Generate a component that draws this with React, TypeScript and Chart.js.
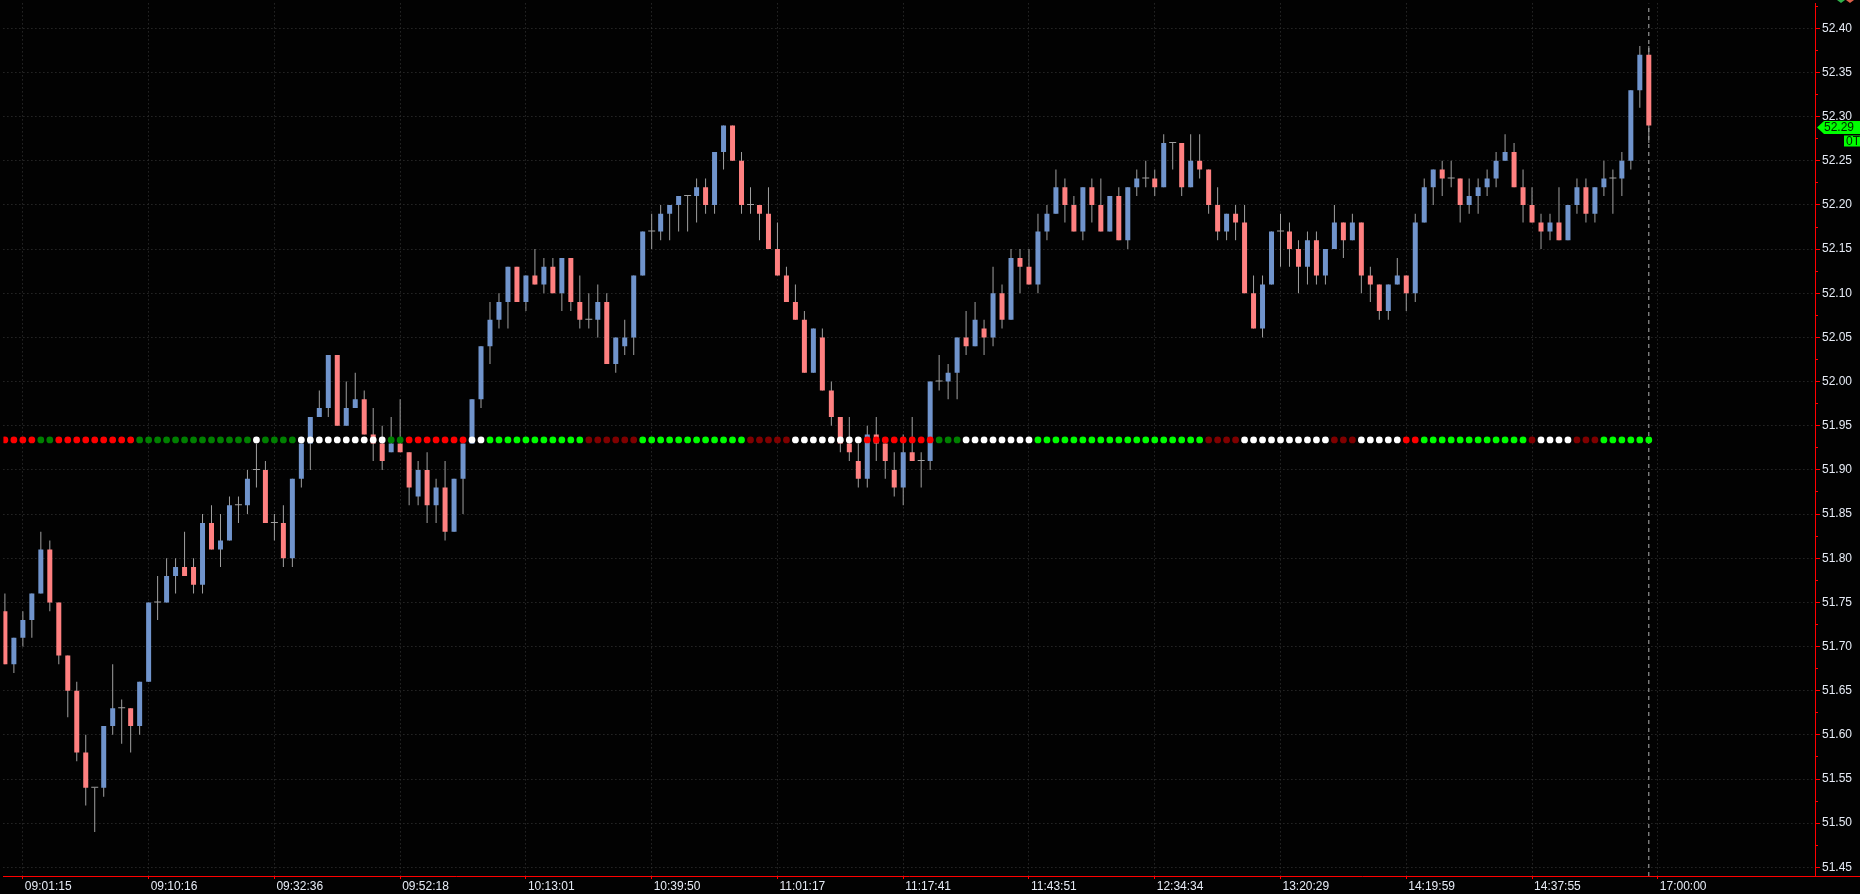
import React, { useEffect, useRef } from 'react';
import { Chart, registerables } from 'chart.js';

Chart.register(...registerables);

// ---- session bars (one per slot) ----
const opens = [
  51.74, 51.68, 51.71, 51.73, 51.76, 51.81, 51.75, 51.69, 51.65, 51.58,
  51.54, 51.54, 51.61, 51.63, 51.63, 51.61, 51.66, 51.75, 51.75, 51.78,
  51.79, 51.79, 51.77, 51.84, 51.81, 51.82, 51.86, 51.86, 51.90, 51.90,
  51.84, 51.84, 51.80, 51.89, 51.93, 51.96, 51.97, 52.03, 51.95, 51.97,
  51.98, 51.94, 51.93, 51.92, 51.93, 51.92, 51.87, 51.90, 51.86, 51.88,
  51.83, 51.89, 51.93, 51.98, 52.04, 52.07, 52.09, 52.13, 52.09, 52.12,
  52.11, 52.13, 52.10, 52.14, 52.09, 52.07, 52.07, 52.09, 52.02, 52.04,
  52.05, 52.12, 52.17, 52.17, 52.19, 52.20, 52.21, 52.21, 52.22, 52.20,
  52.26, 52.29, 52.25, 52.20, 52.20, 52.19, 52.15, 52.12, 52.09, 52.07,
  52.01, 52.05, 51.99, 51.96, 51.93, 51.91, 51.89, 51.94, 51.93, 51.90,
  51.88, 51.92, 51.91, 51.91, 52.00, 52.00, 52.01, 52.05, 52.04, 52.06,
  52.05, 52.10, 52.07, 52.14, 52.13, 52.11, 52.17, 52.19, 52.22, 52.20,
  52.17, 52.22, 52.20, 52.17, 52.21, 52.16, 52.22, 52.23, 52.23, 52.22,
  52.27, 52.27, 52.22, 52.25, 52.24, 52.20, 52.17, 52.19, 52.18, 52.10,
  52.06, 52.11, 52.17, 52.17, 52.15, 52.13, 52.16, 52.12, 52.15, 52.18,
  52.16, 52.18, 52.12, 52.11, 52.08, 52.11, 52.12, 52.10, 52.18, 52.22,
  52.24, 52.23, 52.23, 52.20, 52.21, 52.22, 52.23, 52.25, 52.26, 52.22,
  52.20, 52.18, 52.17, 52.18, 52.16, 52.20, 52.22, 52.19, 52.22, 52.23,
  52.23, 52.25, 52.33, 52.37,
];
const highs = [
  51.76, 51.71, 51.74, 51.76, 51.83, 51.82, 51.75, 51.69, 51.66, 51.60,
  51.54, 51.61, 51.68, 51.64, 51.63, 51.66, 51.75, 51.78, 51.80, 51.80,
  51.83, 51.80, 51.85, 51.86, 51.85, 51.87, 51.87, 51.90, 51.93, 51.91,
  51.85, 51.86, 51.89, 51.93, 51.96, 51.99, 52.03, 52.03, 52.00, 52.01,
  51.99, 51.97, 51.95, 51.96, 51.98, 51.92, 51.91, 51.92, 51.89, 51.91,
  51.89, 51.93, 51.98, 52.04, 52.09, 52.10, 52.13, 52.13, 52.12, 52.15,
  52.14, 52.14, 52.14, 52.14, 52.12, 52.10, 52.11, 52.10, 52.05, 52.07,
  52.12, 52.17, 52.19, 52.20, 52.20, 52.21, 52.21, 52.23, 52.23, 52.26,
  52.29, 52.29, 52.26, 52.22, 52.20, 52.22, 52.18, 52.13, 52.11, 52.08,
  52.06, 52.06, 52.00, 51.96, 51.96, 51.93, 51.95, 51.96, 51.93, 51.92,
  51.94, 51.96, 51.92, 52.00, 52.03, 52.02, 52.05, 52.08, 52.09, 52.07,
  52.13, 52.11, 52.15, 52.15, 52.15, 52.19, 52.20, 52.24, 52.23, 52.21,
  52.22, 52.23, 52.23, 52.21, 52.22, 52.22, 52.24, 52.25, 52.24, 52.28,
  52.27, 52.27, 52.28, 52.28, 52.24, 52.22, 52.19, 52.20, 52.20, 52.12,
  52.12, 52.17, 52.19, 52.18, 52.16, 52.17, 52.17, 52.15, 52.20, 52.18,
  52.19, 52.18, 52.13, 52.11, 52.11, 52.14, 52.12, 52.19, 52.23, 52.24,
  52.25, 52.25, 52.23, 52.23, 52.23, 52.24, 52.26, 52.28, 52.27, 52.24,
  52.22, 52.19, 52.19, 52.22, 52.20, 52.23, 52.23, 52.22, 52.25, 52.24,
  52.26, 52.33, 52.38, 52.38,
];
const lows = [
  51.68, 51.67, 51.70, 51.71, 51.76, 51.74, 51.68, 51.62, 51.57, 51.52,
  51.49, 51.53, 51.60, 51.59, 51.58, 51.60, 51.66, 51.73, 51.75, 51.76,
  51.78, 51.76, 51.76, 51.81, 51.79, 51.82, 51.84, 51.85, 51.88, 51.84,
  51.82, 51.79, 51.79, 51.88, 51.90, 51.96, 51.96, 51.95, 51.95, 51.97,
  51.94, 51.91, 51.90, 51.92, 51.92, 51.86, 51.86, 51.84, 51.84, 51.82,
  51.83, 51.85, 51.93, 51.97, 52.02, 52.06, 52.06, 52.09, 52.08, 52.11,
  52.10, 52.10, 52.08, 52.08, 52.06, 52.06, 52.05, 52.02, 52.01, 52.03,
  52.03, 52.12, 52.15, 52.16, 52.16, 52.17, 52.17, 52.18, 52.19, 52.19,
  52.24, 52.25, 52.19, 52.19, 52.16, 52.15, 52.12, 52.09, 52.07, 52.01,
  52.01, 51.99, 51.95, 51.92, 51.91, 51.88, 51.88, 51.91, 51.89, 51.87,
  51.86, 51.91, 51.88, 51.90, 51.99, 51.98, 51.98, 52.03, 52.04, 52.03,
  52.04, 52.06, 52.07, 52.10, 52.11, 52.10, 52.16, 52.19, 52.18, 52.17,
  52.16, 52.18, 52.17, 52.17, 52.16, 52.15, 52.21, 52.22, 52.21, 52.22,
  52.24, 52.21, 52.22, 52.23, 52.19, 52.16, 52.16, 52.16, 52.10, 52.06,
  52.05, 52.11, 52.13, 52.13, 52.10, 52.11, 52.11, 52.11, 52.15, 52.14,
  52.16, 52.10, 52.09, 52.07, 52.07, 52.11, 52.08, 52.09, 52.18, 52.20,
  52.21, 52.22, 52.18, 52.19, 52.19, 52.21, 52.22, 52.25, 52.22, 52.18,
  52.18, 52.15, 52.16, 52.16, 52.16, 52.19, 52.18, 52.18, 52.21, 52.19,
  52.21, 52.24, 52.31, 52.27,
];
const closes = [
  51.68, 51.71, 51.73, 51.76, 51.81, 51.75, 51.69, 51.65, 51.58, 51.54,
  51.54, 51.61, 51.63, 51.63, 51.61, 51.66, 51.75, 51.75, 51.78, 51.79,
  51.78, 51.77, 51.84, 51.81, 51.82, 51.86, 51.86, 51.89, 51.90, 51.84,
  51.84, 51.80, 51.89, 51.93, 51.96, 51.97, 52.03, 51.95, 51.97, 51.98,
  51.94, 51.93, 51.91, 51.93, 51.92, 51.88, 51.90, 51.86, 51.88, 51.83,
  51.89, 51.93, 51.98, 52.04, 52.07, 52.09, 52.13, 52.09, 52.12, 52.11,
  52.13, 52.10, 52.14, 52.09, 52.07, 52.07, 52.09, 52.02, 52.05, 52.05,
  52.12, 52.17, 52.17, 52.19, 52.20, 52.21, 52.21, 52.22, 52.20, 52.26,
  52.29, 52.25, 52.20, 52.20, 52.19, 52.15, 52.12, 52.09, 52.07, 52.01,
  52.06, 51.99, 51.96, 51.93, 51.92, 51.89, 51.94, 51.93, 51.91, 51.88,
  51.92, 51.91, 51.91, 52.00, 52.00, 52.01, 52.05, 52.04, 52.07, 52.05,
  52.10, 52.07, 52.14, 52.13, 52.11, 52.17, 52.19, 52.22, 52.20, 52.17,
  52.22, 52.20, 52.17, 52.21, 52.16, 52.22, 52.23, 52.23, 52.22, 52.27,
  52.27, 52.22, 52.25, 52.24, 52.20, 52.17, 52.19, 52.18, 52.10, 52.06,
  52.11, 52.17, 52.17, 52.15, 52.13, 52.16, 52.12, 52.15, 52.18, 52.16,
  52.18, 52.12, 52.11, 52.08, 52.11, 52.12, 52.10, 52.18, 52.22, 52.24,
  52.23, 52.23, 52.20, 52.21, 52.22, 52.23, 52.25, 52.26, 52.22, 52.20,
  52.18, 52.17, 52.18, 52.16, 52.20, 52.22, 52.19, 52.22, 52.23, 52.23,
  52.25, 52.33, 52.37, 52.29,
];

// Signal state per bar: R red, M maroon, G lime, D dark green, W white
const signalStates = (
  'RRRR' + 'DD' + 'RRRRRRRRR' + 'DDDDDDDDDDDDD' + 'W' + 'DDDD' + 'WWWWWWWWWW' +
  'DD' + 'RRRRRRR' + 'WW' + 'GGGGGGGGGGG' + 'MMMMMM' + 'GGGGGGGGGGGG' + 'MMMMM' +
  'WWWWWWWW' + 'RRRRRRRR' + 'DDD' + 'WWWWWWWW' + 'GGGGGGGGGGGGGGGGGGG' + 'MMMM' +
  'WWWWWWWWWW' + 'MMM' + 'WWWWW' + 'RR' + 'GGGGGGGGGGGG' + 'M' + 'WWWW' + 'MMM' + 'GGGGGG'
).split('');
const signalLevel = 51.934;

// Time axis
const timeLabels = [
  '09:01:15', '09:10:16', '09:32:36', '09:52:18', '10:13:01', '10:39:50', '11:01:17',
  '11:17:41', '11:43:51', '12:34:34', '13:20:29', '14:19:59', '14:37:55', '17:00:00',
];
const timeLabelBars = [2, 16, 30, 44, 58, 72, 86, 100, 114, 128, 142, 156, 170, 184];

// Price axis
const priceLabels = [
  51.45, 51.5, 51.55, 51.6, 51.65, 51.7, 51.75, 51.8, 51.85, 51.9,
  51.95, 52.0, 52.05, 52.1, 52.15, 52.2, 52.25, 52.3, 52.35, 52.4,
];

const Y_MIN = 51.4402;
const Y_MAX = 52.4282;
const X_MIN = -1 / 6;
const X_MAX = 201.5;

const BG = '#020202';
const AXIS_RED = '#ff0000';
const GRID = '#3a3a3a';
const TEXT = '#e6ebf5';
const UP = '#7094cc';
const DOWN = '#ff8080';
const WICK = '#a0a0a0';
const FONT = { family: '"Liberation Sans", Arial, sans-serif', size: 12 };
const STATE_COLORS: Record<string, string> = {
  R: '#ff0000',
  M: '#800000',
  G: '#00ff00',
  D: '#008000',
  W: '#ffffff',
};

const isMajorPrice = (v: number) => Math.abs(v * 20 - Math.round(v * 20)) < 1e-6;

const backgroundPlugin = {
  id: 'bgFill',
  beforeDraw(chart: any) {
    const { ctx, width, height } = chart;
    ctx.save();
    ctx.fillStyle = BG;
    ctx.fillRect(0, 0, width, height);
    ctx.restore();
  },
};

const lastPricePlugin = {
  id: 'lastPriceTag',
  afterDraw(chart: any) {
    const { ctx, chartArea, width, scales } = chart;
    const y = scales.y;
    // extend the time-axis rule under the price scale
    ctx.save();
    ctx.strokeStyle = AXIS_RED;
    ctx.lineWidth = 1;
    ctx.beginPath();
    ctx.moveTo(chartArea.right, Math.round(chartArea.bottom) + 0.5);
    ctx.lineTo(width, Math.round(chartArea.bottom) + 0.5);
    ctx.stroke();

    // small up / down markers in the top corner of the price scale
    ctx.fillStyle = '#2fb34a';
    ctx.beginPath();
    ctx.moveTo(1837, 0);
    ctx.lineTo(1845, 0);
    ctx.lineTo(1841, 3);
    ctx.closePath();
    ctx.fill();
    ctx.fillStyle = '#e0604a';
    ctx.beginPath();
    ctx.moveTo(1846, 0);
    ctx.lineTo(1854, 0);
    ctx.lineTo(1850, 3);
    ctx.closePath();
    ctx.fill();

    const last = closes[closes.length - 1];
    const cy = Math.round(y.getPixelForValue(last)) + 2.5;
    const tip = chartArea.right + 2;
    ctx.fillStyle = '#00ff00';
    ctx.beginPath();
    ctx.moveTo(tip, cy);
    ctx.lineTo(tip + 7, cy - 6.5);
    ctx.lineTo(width, cy - 6.5);
    ctx.lineTo(width, cy + 6.5);
    ctx.lineTo(tip + 7, cy + 6.5);
    ctx.closePath();
    ctx.fill();
    ctx.fillStyle = '#002200';
    ctx.font = `12px ${FONT.family}`;
    ctx.textBaseline = 'middle';
    ctx.textAlign = 'left';
    ctx.fillText(last.toFixed(2), tip + 7, cy + 0.5);

    ctx.fillStyle = '#00ff00';
    ctx.fillRect(width - 16, cy + 8, 16, 11);
    ctx.fillStyle = '#002200';
    ctx.fillText('0T', width - 14, cy + 14);
    ctx.restore();
  },
};

export default function App() {
  const canvasRef = useRef<HTMLCanvasElement>(null);

  useEffect(() => {
    document.body.style.margin = '0';
    document.body.style.background = BG;
    const canvas = canvasRef.current;
    if (!canvas) return;

    const idx = closes.map((_, i) => i);
    const wickData = idx.map((i) => ({ x: i, y: [lows[i], highs[i]] }));
    const bodyData = idx.map((i) => ({ x: i, y: [opens[i], closes[i]] }));
    const bodyColors = idx.map((i) =>
      closes[i] > opens[i] ? UP : closes[i] < opens[i] ? DOWN : 'rgba(0,0,0,0)'
    );
    const dojiData = idx
      .filter((i) => closes[i] === opens[i])
      .map((i) => ({ x: i, y: [opens[i], closes[i]] }));
    const signalData = idx.map((i) => ({ x: i, y: signalLevel }));
    const signalColors = signalStates.map((s) => STATE_COLORS[s]);
    const lastIdx = closes.length - 1;

    const minorPrices = priceLabels.map((p) => p + 0.025).filter((p) => p < Y_MAX);
    const priceTickValues = [...priceLabels, ...minorPrices].sort((a, b) => a - b);

    const chart = new Chart(canvas, {
      type: 'bar',
      data: {
        datasets: [
          {
            type: 'line',
            data: [
              { x: lastIdx, y: Y_MIN },
              { x: lastIdx, y: Y_MAX },
            ],
            borderColor: '#b4b4b4',
            borderWidth: 1,
            borderDash: [4, 4],
            pointRadius: 0,
            order: 5,
          } as any,
          {
            data: wickData,
            backgroundColor: WICK,
            barThickness: 1,
            grouped: false,
            inflateAmount: 0,
            order: 4,
          } as any,
          {
            data: bodyData,
            backgroundColor: bodyColors,
            barThickness: 5,
            grouped: false,
            inflateAmount: 0,
            order: 3,
          } as any,
          {
            data: dojiData,
            backgroundColor: WICK,
            barThickness: 7,
            minBarLength: 1,
            grouped: false,
            inflateAmount: 0,
            order: 2,
          } as any,
          {
            type: 'line',
            data: signalData,
            showLine: false,
            pointRadius: 3.4,
            pointHoverRadius: 3.4,
            pointBorderWidth: 0,
            pointBackgroundColor: signalColors,
            pointBorderColor: 'rgba(0,0,0,0)',
            order: 1,
          } as any,
        ],
      },
      options: {
        responsive: false,
        maintainAspectRatio: false,
        animation: false,
        devicePixelRatio: 1,
        events: [],
        layout: { padding: 0 },
        plugins: {
          legend: { display: false },
          tooltip: { enabled: false },
        },
        scales: {
          x: {
            type: 'linear',
            position: 'bottom',
            min: X_MIN,
            max: X_MAX,
            offset: false,
            afterBuildTicks: (scale: any) => {
              scale.ticks = timeLabelBars.map((v) => ({ value: v }));
            },
            afterFit: (scale: any) => {
              scale.height = 18;
              scale.paddingLeft = 0;
              scale.paddingRight = 0;
            },
            ticks: {
              autoSkip: false,
              maxRotation: 0,
              minRotation: 0,
              align: 'start',
              labelOffset: 2,
              padding: 0,
              color: TEXT,
              font: FONT,
              callback: (v: any) => {
                const k = timeLabelBars.indexOf(Number(v));
                return k >= 0 ? timeLabels[k] : '';
              },
            },
            grid: {
              offset: false,
              color: GRID,
              lineWidth: 1,
              tickColor: AXIS_RED,
              tickLength: 3,
              drawTicks: true,
            },
            border: { display: true, color: AXIS_RED, width: 1, dash: [1, 3] },
          },
          y: {
            type: 'linear',
            position: 'right',
            min: Y_MIN,
            max: Y_MAX,
            afterBuildTicks: (scale: any) => {
              scale.ticks = priceTickValues.map((v) => ({ value: v }));
            },
            afterFit: (scale: any) => {
              scale.width = 45;
              scale.paddingTop = 0;
              scale.paddingBottom = 0;
            },
            ticks: {
              autoSkip: false,
              padding: 2,
              color: TEXT,
              font: FONT,
              callback: (v: any) => (isMajorPrice(Number(v)) ? Number(v).toFixed(2) : ''),
            },
            grid: {
              color: (c: any) =>
                c.tick && isMajorPrice(c.tick.value) ? GRID : 'rgba(0,0,0,0)',
              lineWidth: 1,
              tickColor: AXIS_RED,
              tickLength: 5,
              tickBorderDash: (c: any) =>
                c.tick && isMajorPrice(c.tick.value) ? [] : [2, 20],
              drawTicks: true,
            },
            border: { display: true, color: AXIS_RED, width: 1, dash: [1, 3] },
          },
        },
      } as any,
      plugins: [backgroundPlugin, lastPricePlugin],
    });

    return () => chart.destroy();
  }, []);

  return (
    <canvas
      ref={canvasRef}
      width={1860}
      height={894}
      style={{ display: 'block', width: 1860, height: 894 }}
    />
  );
}
